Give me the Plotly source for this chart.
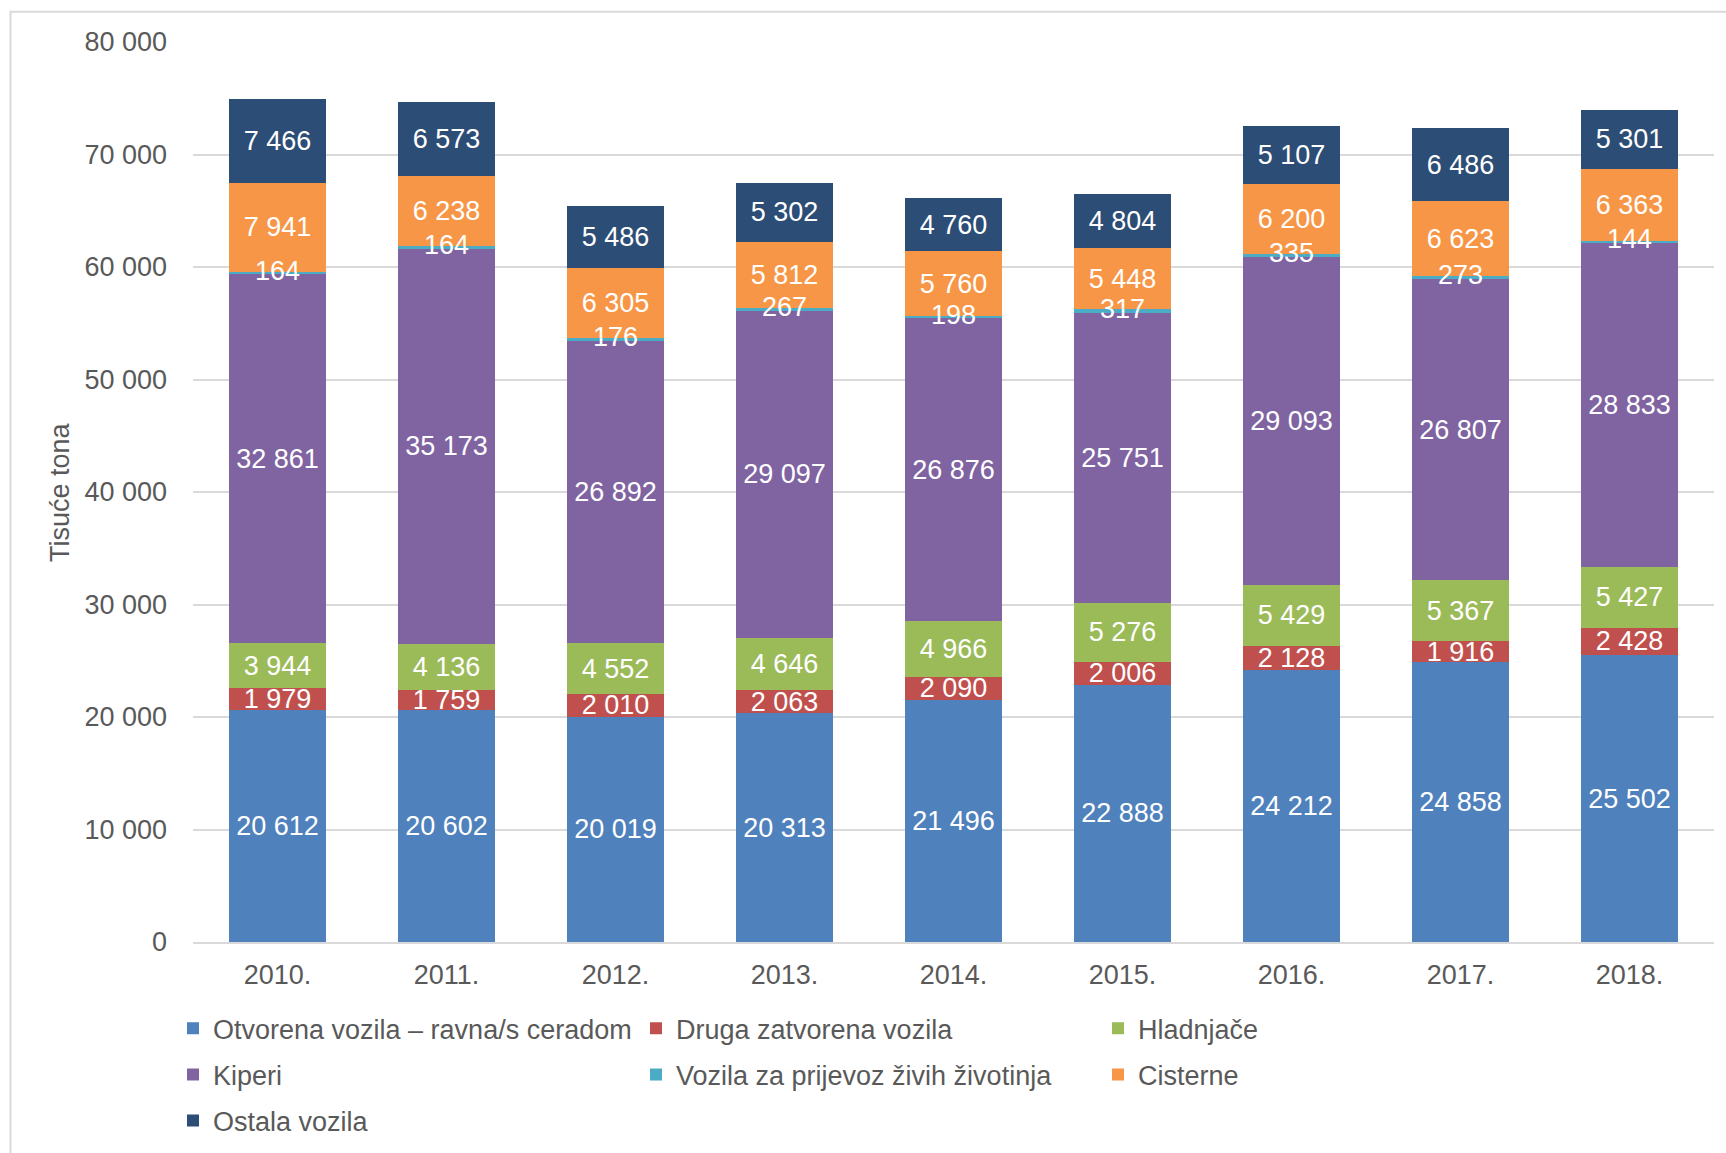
import plotly.graph_objects as go

# Freight transported by vehicle type, thousand tonnes
years = ["2010.", "2011.", "2012.", "2013.", "2014.", "2015.", "2016.", "2017.", "2018."]

otvorena = [20612, 20602, 20019, 20313, 21496, 22888, 24212, 24858, 25502]
druga = [1979, 1759, 2010, 2063, 2090, 2006, 2128, 1916, 2428]
hladnjace = [3944, 4136, 4552, 4646, 4966, 5276, 5429, 5367, 5427]
kiperi = [32861, 35173, 26892, 29097, 26876, 25751, 29093, 26807, 28833]
zivotinje = [164, 164, 176, 267, 198, 317, 335, 273, 144]
cisterne = [7941, 6238, 6305, 5812, 5760, 5448, 6200, 6623, 6363]
ostala = [7466, 6573, 5486, 5302, 4760, 4804, 5107, 6486, 5301]

FONT = "Liberation Sans, Arial, sans-serif"
GREY_TEXT = "#595959"
GRID = "#D9D9D9"

# (name, values, colour, legend id, legend group)
series = [
    ("Otvorena vozila – ravna/s ceradom", otvorena, "#4F81BD", "legend", "g1"),
    ("Druga zatvorena vozila", druga, "#C0504D", "legend2", "g2"),
    ("Hladnjače", hladnjace, "#9BBB59", "legend3", "g3"),
    ("Kiperi", kiperi, "#8064A2", "legend", "g4"),
    ("Vozila za prijevoz živih životinja", zivotinje, "#4BACC6", "legend2", "g5"),
    ("Cisterne", cisterne, "#F79646", "legend3", "g6"),
    ("Ostala vozila", ostala, "#2C4D75", "legend", "g7"),
]

fig = go.Figure()
for name, vals, color, leg, grp in series:
    thin = vals is zivotinje
    fig.add_trace(go.Bar(
        x=years,
        y=vals,
        name=name,
        marker=dict(color=color, line=dict(width=0)),
        texttemplate=None if thin else "%{y:,.0f}",
        textposition="none" if thin else "inside",
        insidetextanchor="middle",
        textangle=0,
        constraintext="none",
        insidetextfont=dict(family=FONT, size=27, color="white"),
        legend=leg,
        legendgroup=grp,
        hoverinfo="skip",
    ))

# labels of the thin livestock segment sit on top of every bar layer
base_below = [a + b + c + d for a, b, c, d in zip(otvorena, druga, hladnjace, kiperi)]
mid_thin = [b + v / 2 for b, v in zip(base_below, zivotinje)]
fig.add_trace(go.Scatter(
    x=years,
    y=mid_thin,
    mode="text",
    text=[f"{v:,}".replace(",", " ") for v in zivotinje],
    textposition="middle center",
    textfont=dict(family=FONT, size=27, color="white"),
    showlegend=False,
    hoverinfo="skip",
))

# plot area spans 900 px vertically: paper y = (941.7 - px) / 900
def py(px):
    return (941.7 - px) / 900.0

def pxx(px):
    return (px - 193.0) / 1521.0

legend_common = dict(
    orientation="v",
    font=dict(family=FONT, size=27, color=GREY_TEXT),
    bgcolor="rgba(0,0,0,0)",
    xanchor="left",
    yanchor="top",
    tracegroupgap=8,
    traceorder="grouped",
)

fig.update_layout(
    barmode="stack",
    bargap=0.426,
    width=1726,
    height=1153,
    margin=dict(l=193, r=12, t=41.7, b=211.3, autoexpand=False),
    paper_bgcolor="white",
    plot_bgcolor="white",
    separators=", ",
    font=dict(family=FONT, size=27, color=GREY_TEXT),
    legend=dict(x=pxx(173), y=py(1004), **legend_common),
    legend2=dict(x=pxx(636), y=py(1004), **legend_common),
    legend3=dict(x=pxx(1098), y=py(1004), **legend_common),
    xaxis=dict(
        showgrid=False,
        showline=True,
        linecolor=GRID,
        linewidth=1.5,
        ticks="",
        ticklabelstandoff=8,
        tickfont=dict(family=FONT, size=27, color=GREY_TEXT),
    ),
    yaxis=dict(
        range=[0, 80000],
        dtick=10000,
        tickformat=",.0f",
        showgrid=True,
        gridcolor=GRID,
        gridwidth=1.5,
        zeroline=False,
        ticks="",
        ticklabelstandoff=25,
        tickfont=dict(family=FONT, size=27, color=GREY_TEXT),
    ),
    annotations=[
        dict(
            text="Tisuće tona",
            xref="paper", yref="paper",
            x=pxx(60), y=0.5,
            xanchor="center", yanchor="middle",
            textangle=-90,
            showarrow=False,
            font=dict(family=FONT, size=27, color=GREY_TEXT),
        )
    ],
    shapes=[
        dict(
            type="rect", xref="paper", yref="paper",
            x0=pxx(10.5), x1=pxx(1800), y0=py(1300), y1=py(11.5),
            line=dict(color=GRID, width=2),
            fillcolor="rgba(0,0,0,0)",
            layer="below",
        )
    ],
)

fig.write_html("out.html")
